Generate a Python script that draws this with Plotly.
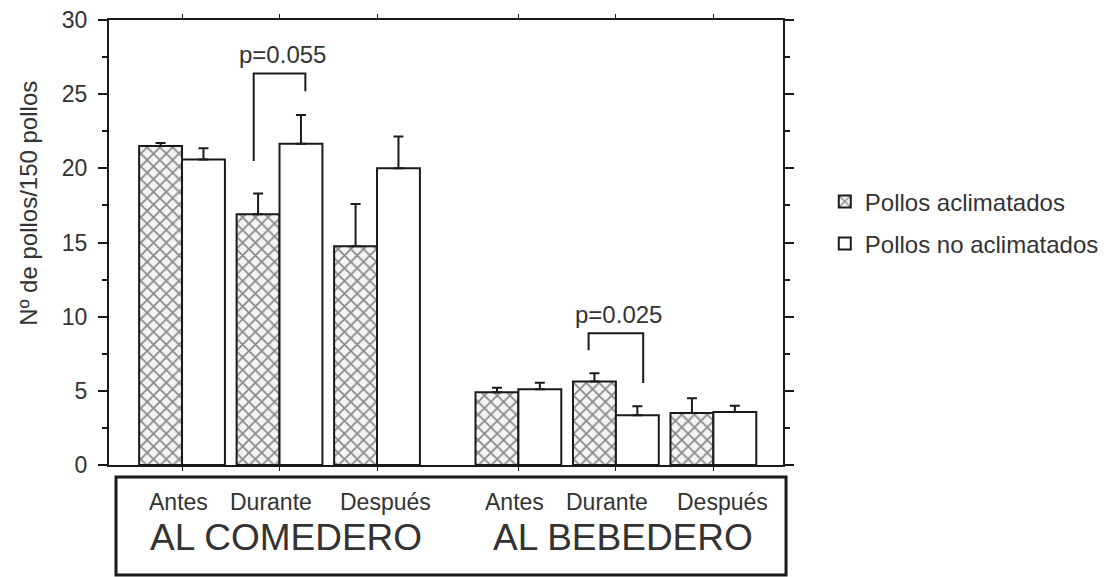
import plotly.graph_objects as go

# ---- data ----
periods = ["Antes", "Durante", "Después"]
places = ["AL COMEDERO", "AL BEBEDERO"]
series_names = ["Pollos aclimatados", "Pollos no aclimatados"]
aclimatados = [21.5, 16.9, 14.75, 4.9, 5.63, 3.5]
aclimatados_err = [0.2, 1.4, 2.85, 0.3, 0.55, 1.0]
no_aclimatados = [20.6, 21.65, 20.0, 5.1, 3.36, 3.58]
no_aclimatados_err = [0.75, 1.95, 2.15, 0.45, 0.6, 0.42]
y_ticks = [0, 5, 10, 15, 20, 25, 30]
pvals = ["p=0.055", "p=0.025"]
pval_idx = [1, 4]

# ---- layout helpers ----
GROUP_GAP = 0.45
pos = []
for g in range(len(places)):
    for i in range(len(periods)):
        pos.append(i + g * (len(periods) + GROUP_GAP))
BW = 0.44
FONT = "Liberation Sans, Arial, sans-serif"
TXT = "#333333"
LINE = "#1a1a1a"
word_shift = [-0.04, -0.09, 0.09]

fig = go.Figure()
fig.add_trace(go.Bar(
    x=pos, y=aclimatados, name=series_names[0], width=BW, offset=-BW,
    marker=dict(color="white", line=dict(color=LINE, width=2),
                pattern=dict(shape="x", size=9, solidity=0.35, fgcolor="#1e1e1e", bgcolor="#f4f4f4")),
    error_y=dict(type="data", symmetric=False, array=aclimatados_err,
                 arrayminus=[0] * len(aclimatados), color=LINE, thickness=2, width=5),
    legendgroup="a",
))
fig.add_trace(go.Bar(
    x=pos, y=no_aclimatados, name=series_names[1], width=BW, offset=0,
    marker=dict(color="white", line=dict(color=LINE, width=2)),
    error_y=dict(type="data", symmetric=False, array=no_aclimatados_err,
                 arrayminus=[0] * len(no_aclimatados), color=LINE, thickness=2, width=5),
    legendgroup="b",
))

# significance brackets
br = [(20.5, 26.4, 25.2, 0.265), (7.74, 8.88, 5.52, 0.28)]
for (yl, yt, yr, half), lab, k in zip(br, pvals, pval_idx):
    xc = pos[k]
    fig.add_shape(type="path", xref="x", yref="y",
                  path=f"M {xc-half},{yl} L {xc-half},{yt} L {xc+half},{yt} L {xc+half},{yr}",
                  line=dict(color=LINE, width=2))
    fig.add_annotation(x=xc + 0.03, y=yt + 1.25, xref="x", yref="y", text=lab,
                       showarrow=False, font=dict(family=FONT, size=24, color=TXT),
                       xanchor="center", yanchor="middle")

# bottom label box
fig.add_shape(type="rect", xref="paper", yref="paper", x0=0.0104, x1=1.0045,
              y0=-0.247, y1=-0.027, line=dict(color=LINE, width=3))
for k, p in enumerate(pos):
    fig.add_annotation(x=p + word_shift[k % 3], y=-0.083, xref="x", yref="paper",
                       text=periods[k % 3], showarrow=False,
                       xanchor="center", yanchor="middle",
                       font=dict(family=FONT, size=23, color=TXT))
for g, name in enumerate(places):
    gc = sum(pos[g * 3:(g + 1) * 3]) / 3
    fig.add_annotation(x=gc + 0.07, y=-0.164, xref="x", yref="paper", text=name,
                       showarrow=False, xanchor="center", yanchor="middle",
                       font=dict(family=FONT, size=37, color=TXT))

# y axis title
fig.add_annotation(x=-0.119, y=0.589, xref="paper", yref="paper",
                   text="Nº de pollos/150 pollos", textangle=-90, showarrow=False,
                   xanchor="center", yanchor="middle",
                   font=dict(family=FONT, size=24, color=TXT))

fig.update_layout(
    width=1107, height=569,
    margin=dict(l=101, r=332, t=12, b=112, autoexpand=False),
    paper_bgcolor="white", plot_bgcolor="white",
    barmode="overlay",
    showlegend=True,
    legend=dict(x=1.062, y=0.642, xanchor="left", yanchor="top",
                font=dict(family=FONT, size=24, color=TXT),
                tracegroupgap=8, bgcolor="rgba(0,0,0,0)"),
    font=dict(family=FONT, color=TXT),
)
fig.update_xaxes(range=[-0.749, 6.164], showline=True, linecolor=LINE, linewidth=2,
                 mirror="ticks", tickvals=pos, ticks="outside", ticklen=4,
                 tickcolor=LINE, tickwidth=1, showticklabels=False, showgrid=False,
                 zeroline=False, automargin=False)
fig.update_yaxes(range=[0, 30], showline=True, linecolor=LINE, linewidth=2,
                 mirror="ticks", tickvals=y_ticks, ticks="outside", ticklen=9,
                 tickcolor=LINE, tickwidth=2, showgrid=False, zeroline=False,
                 tickfont=dict(family=FONT, size=23, color=TXT),
                 ticklabelstandoff=6, automargin=False, ticklabeloverflow="allow",
                 minor=dict(dtick=2.5, ticks="outside", ticklen=5, tickcolor=LINE,
                            tickwidth=1.5, showgrid=False))

fig.write_html("out.html")
